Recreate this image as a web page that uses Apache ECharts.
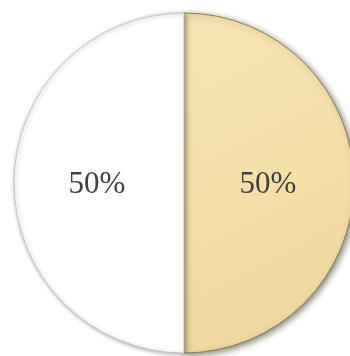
<!DOCTYPE html>
<html>
<head>
<meta charset="utf-8">
<script src="https://cdn.jsdelivr.net/npm/echarts@6/dist/echarts.min.js"></script>
<style>html,body{margin:0;padding:0;background:#fff;}#c{width:350px;height:356px;}</style>
</head>
<body>
<div id="c"></div>
<script>
var categories = ['B', 'A'];
var values = [50, 50];
var sliceColors = ['#F4DFA8', '#FFFFFF'];

var chart = echarts.init(document.getElementById('c'), null, {renderer: 'canvas'});
var papyrus = {
  type: 'linear', x: 0, y: 0, x2: 1, y2: 1,
  colorStops: [
    {offset: 0, color: '#F7E5B4'},
    {offset: 0.5, color: '#F4DFA8'},
    {offset: 1, color: '#EDD59D'}
  ]
};
var data = categories.map(function (c, i) {
  return {
    name: c,
    value: values[i],
    itemStyle: i === 0 ? {
      color: papyrus,
      borderColor: '#8E7C50',
      borderWidth: 1,
      shadowBlur: 6,
      shadowColor: 'rgba(60,50,20,0.6)',
      shadowOffsetX: 2,
      shadowOffsetY: 2
    } : {
      color: sliceColors[i],
      borderColor: '#C8C8C8',
      borderWidth: 1,
      shadowBlur: 4,
      shadowColor: 'rgba(0,0,0,0.35)',
      shadowOffsetX: 1,
      shadowOffsetY: 1
    },
    label: {offset: i === 0 ? [-4, 2] : [1, 2]}
  };
});
chart.setOption({
  animation: false,
  series: [{
    type: 'pie',
    center: [184, 183],
    radius: [0, 170],
    startAngle: 90,
    clockwise: true,
    percentPrecision: 0,
    data: data,
    label: {
      show: true,
      position: 'inside',
      formatter: '{d}%',
      fontFamily: 'Liberation Serif',
      fontSize: 31,
      color: '#404040'
    },
    labelLine: {show: false},
    emphasis: {disabled: true}
  }]
});
</script>
</body>
</html>
